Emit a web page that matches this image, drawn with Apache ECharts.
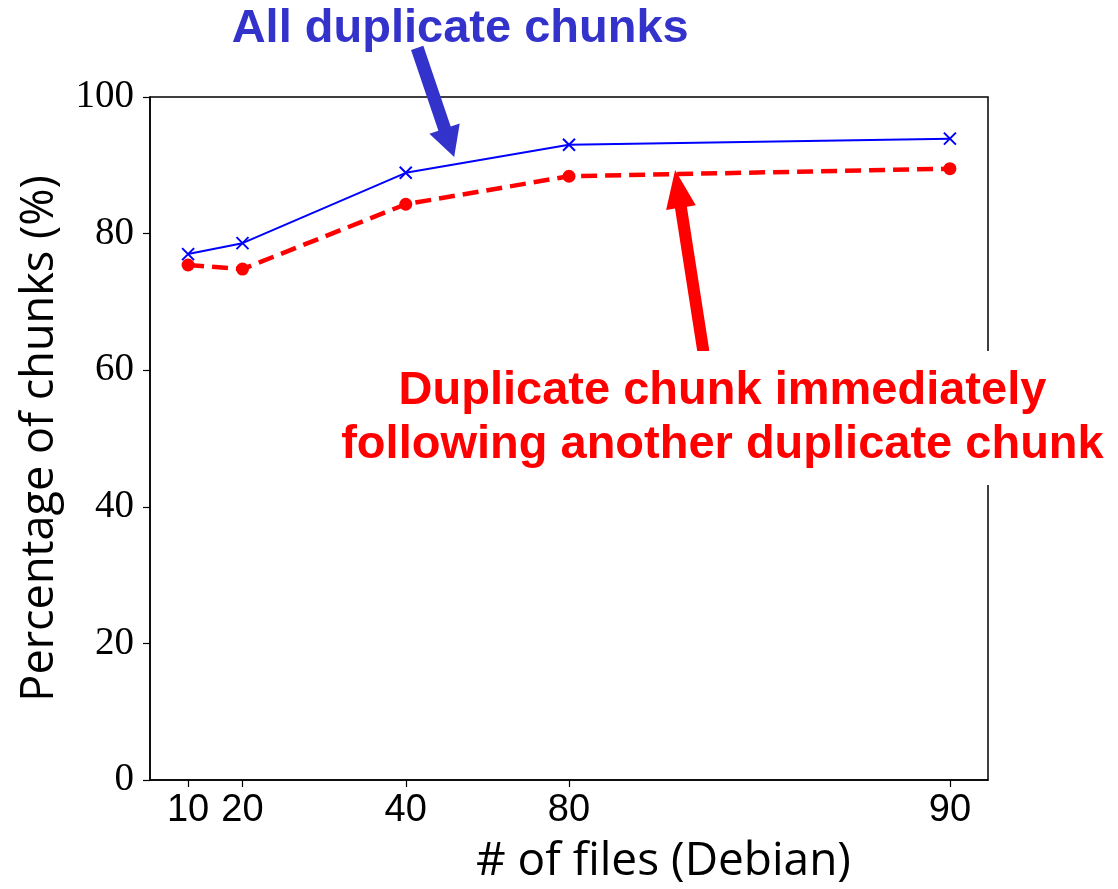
<!DOCTYPE html>
<html><head><meta charset="utf-8">
<script src="https://cdn.jsdelivr.net/npm/echarts@6/dist/echarts.min.js"></script>
<style>html,body{margin:0;padding:0;background:#fff}#c{width:1118px;height:889px}</style>
</head><body><div id="c"></div>
<script>
// x positions of the runs (in plotting units) and their tick labels
const xValues = [2, 3, 6, 9, 16];
const xTickLabels = ['10', '20', '40', '80', '90'];
const yTicks = [0, 20, 40, 60, 80, 100];
const allDuplicate = [77.0, 78.6, 88.9, 93.0, 93.9];
const consecutiveDuplicate = [75.4, 74.8, 84.3, 88.4, 89.5];
const blueLabel = 'All duplicate chunks';
const redLabel = 'Duplicate chunk immediately\nfollowing another duplicate chunk';
const xTitle = '# of files (Debian)';
const yTitle = 'Percentage of chunks (%)';

const chart = echarts.init(document.getElementById('c'), null, {renderer: 'canvas'});
const labelMap = {};
xValues.forEach((v, i) => labelMap[v] = xTickLabels[i]);

chart.setOption({
  animation: false,
  backgroundColor: '#fff',
  grid: {left: 150, right: 130, top: 97, bottom: 109, show: true, borderColor: '#000', borderWidth: 1.5, backgroundColor: 'transparent'},
  xAxis: {
    type: 'value', min: 1.3, max: 16.7,
    axisLine: {show: true, onZero: false, lineStyle: {color: '#000', width: 1.5}},
    axisTick: {show: true, length: 7, customValues: xValues, lineStyle: {color: '#000', width: 1.2}},
    axisLabel: {show: true, customValues: xValues, margin: 12, fontFamily: '"Liberation Sans Narrow", "Liberation Sans"', fontSize: 38, color: '#000',
                formatter: v => labelMap[v] || ''},
    splitLine: {show: false}
  },
  yAxis: {
    type: 'value', min: yTicks[0], max: yTicks[yTicks.length - 1], interval: yTicks[1] - yTicks[0],
    axisLine: {show: true, lineStyle: {color: '#000', width: 1.5}},
    axisTick: {show: true, length: 7, lineStyle: {color: '#000', width: 1.2}},
    axisLabel: {show: true, margin: 16, fontFamily: 'Liberation Serif', fontSize: 39, color: '#000'},
    splitLine: {show: false}
  },
  series: [
    {
      type: 'line', data: xValues.map((x, i) => [x, allDuplicate[i]]),
      symbol: 'path://M0,0L10,10M10,0L0,10', symbolSize: 12,
      itemStyle: {color: '#0000ff', borderColor: '#0000ff', borderWidth: 2},
      lineStyle: {color: '#0000ff', width: 2}, z: 3
    },
    {
      type: 'line', data: xValues.map((x, i) => [x, consecutiveDuplicate[i]]),
      symbol: 'circle', symbolSize: 13,
      itemStyle: {color: '#ff0000', borderWidth: 0},
      lineStyle: {color: '#ff0000', width: 4.5, type: [16, 8]}, z: 2
    }
  ]
});

function px(p) { return chart.convertToPixel({gridIndex: 0}, p); }
function arrow(tail, tip, shaftW, headW, headL, color) {
  const a = px(tail), b = px(tip);
  const dx = b[0] - a[0], dy = b[1] - a[1];
  const L = Math.hypot(dx, dy), ux = dx / L, uy = dy / L, nx = -uy, ny = ux;
  const bx = b[0] - ux * headL, by = b[1] - uy * headL;
  const pts = [
    [a[0] + nx * shaftW / 2, a[1] + ny * shaftW / 2],
    [bx + nx * shaftW / 2, by + ny * shaftW / 2],
    [bx + nx * headW / 2, by + ny * headW / 2],
    [b[0], b[1]],
    [bx - nx * headW / 2, by - ny * headW / 2],
    [bx - nx * shaftW / 2, by - ny * shaftW / 2],
    [a[0] - nx * shaftW / 2, a[1] - ny * shaftW / 2]
  ];
  return {type: 'polygon', shape: {points: pts}, style: {fill: color}, z: 50};
}

const bluePos = px([7.0, 110.0]);
const redPos = px([11.82, 53.0]);
const xTitlePos = px([10.0, 0]);
const yTitlePos = px([1.3, 50]);

chart.setOption({
  graphic: [
    arrow([6.21, 107.2], [6.89, 91.2], 13, 32, 30, '#3333cc'),
    arrow([11.47, 62.7], [10.95, 89.3], 12, 30, 38, '#ff0000'),
    {type: 'text', x: bluePos[0], y: bluePos[1], z: 60,
     style: {text: blueLabel, fill: '#3333cc', font: 'bold 47px "Liberation Sans"', align: 'center', verticalAlign: 'middle'}},
    {type: 'text', x: redPos[0], y: redPos[1], z: 60,
     style: {text: redLabel, fill: '#ff0000', font: 'bold 47px "Liberation Sans"', lineHeight: 54,
             align: 'center', verticalAlign: 'middle', backgroundColor: '#fff', padding: [12, 6, 14, 6]}},
    {type: 'text', x: xTitlePos[0] + 40, y: xTitlePos[1] + 82, z: 60,
     style: {text: xTitle, fill: '#000', font: '46px "Open Sans"', align: 'center', verticalAlign: 'middle'}},
    {type: 'text', x: yTitlePos[0] - 110, y: yTitlePos[1], rotation: Math.PI / 2, z: 60,
     style: {text: yTitle, fill: '#000', font: '45px "Open Sans"', align: 'center', verticalAlign: 'middle'}}
  ]
});
</script></body></html>
